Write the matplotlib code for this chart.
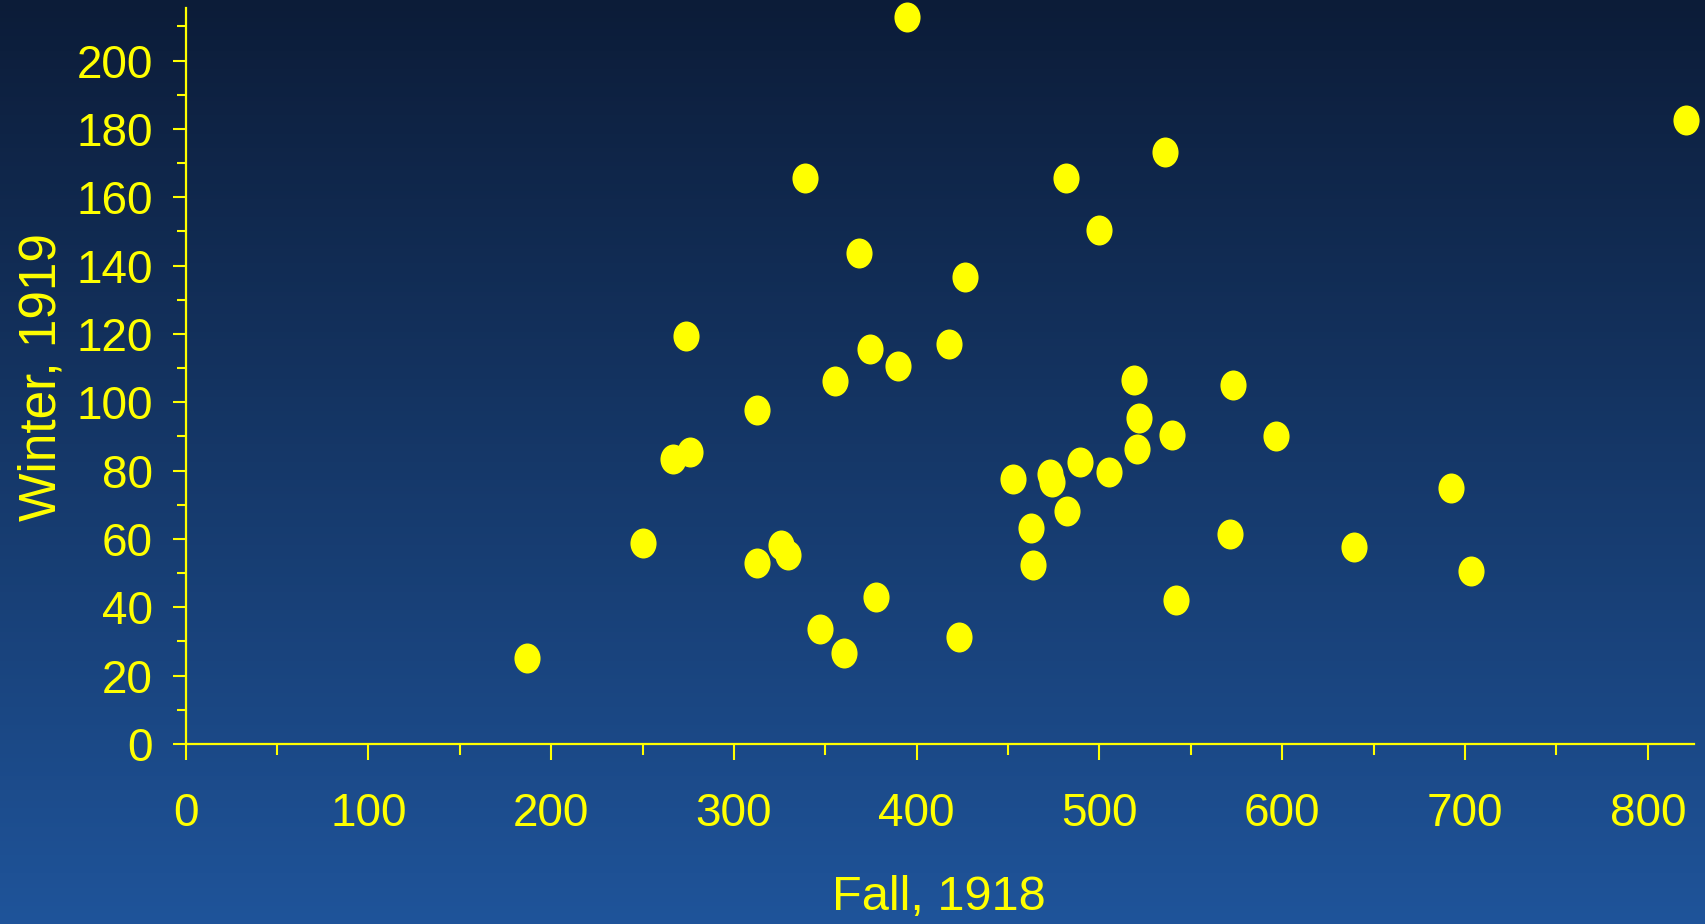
import numpy as np
import matplotlib
matplotlib.use("Agg")
import matplotlib.pyplot as plt
from matplotlib.path import Path
from matplotlib.ticker import MultipleLocator

# Данные: осень 1918 (x) и зима 1919 (y)
fall_1918 = [186.5, 250.1, 266.5, 276.0, 273.8, 312.8, 312.8, 325.7, 329.4, 338.9,
             347.1, 355.5, 360.2, 368.6, 374.4, 377.9, 389.9, 394.8, 417.4, 423.4,
             426.4, 452.7, 462.4, 463.5, 472.9, 474.2, 481.7, 482.4, 489.5, 499.6,
             505.1, 519.1, 521.6, 520.5, 535.9, 539.5, 541.9, 571.6, 572.8, 596.6,
             639.5, 692.4, 703.1, 820.8]
winter_1919 = [25.1, 58.9, 83.3, 85.4, 119.3, 97.7, 53.1, 58.3, 55.3, 165.5,
               33.8, 106.3, 26.6, 143.7, 115.7, 43.1, 110.7, 212.7, 117.2, 31.2,
               136.6, 77.6, 63.2, 52.4, 79.1, 76.8, 165.6, 68.2, 82.6, 150.3,
               79.7, 106.4, 95.5, 86.3, 173.3, 90.5, 42.2, 61.4, 105.1, 90.1,
               57.6, 74.8, 50.6, 182.5]

x_ticks = [0, 100, 200, 300, 400, 500, 600, 700, 800]
y_ticks = [0, 20, 40, 60, 80, 100, 120, 140, 160, 180, 200]

yellow = "#ffff00"
plt.rcParams['font.family'] = ['Liberation Sans', 'DejaVu Sans']

fig = plt.figure(figsize=(17.06, 9.24), dpi=100)

# Градиентный фон
bg = fig.add_axes([0, 0, 1, 1], zorder=-10)
top = np.array([0x0c, 0x1c, 0x38]) / 255
bottom = np.array([0x1f, 0x54, 0x9a]) / 255
t = np.linspace(0, 1, 256)[:, None]
grad = top + (bottom - top) * t
bg.imshow(grad[:, None, :], aspect='auto', extent=[0, 1, 0, 1])
bg.axis('off')

left, right = 185.7 / 1706, 1694 / 1706
bot, topy = 1 - 744 / 924, 1 - 8.3 / 924
ax = fig.add_axes([left, bot, right - left, topy - bot])
ax.set_facecolor('none')

# Эллиптический маркер (немного вытянут по вертикали)
circ = Path.unit_circle()
ell = Path(circ.vertices * np.array([0.87, 1.0]), circ.codes)
ax.plot(fall_1918, winter_1919, linestyle='none', marker=ell, markersize=21.6,
        markerfacecolor=yellow, markeredgewidth=0, clip_on=False)

ax.set_xlim(0, 825.3)
ax.set_ylim(0, 215.3)
ax.set_xticks(x_ticks)
ax.set_yticks(y_ticks)
ax.xaxis.set_minor_locator(MultipleLocator(50))
ax.yaxis.set_minor_locator(MultipleLocator(10))

for s in ['top', 'right']:
    ax.spines[s].set_visible(False)
for s in ['left', 'bottom']:
    ax.spines[s].set_color(yellow)
    ax.spines[s].set_linewidth(1.6)

ax.tick_params(axis='x', which='major', length=11.5, width=1.5, color=yellow,
               labelcolor=yellow, labelsize=33, pad=23)
ax.tick_params(axis='x', which='minor', length=7.7, width=1.5, color=yellow)
ax.tick_params(axis='y', which='major', length=9.6, width=1.5, color=yellow,
               labelcolor=yellow, labelsize=33, pad=14)
ax.tick_params(axis='y', which='minor', length=6.5, width=1.5, color=yellow)

fig.text(939 / 1706, 1 - 897 / 924, 'Fall, 1918', color=yellow, fontsize=35,
         ha='center', va='center')
fig.text(42 / 1706, 1 - 377 / 924, 'Winter, 1919', color=yellow, fontsize=37,
         ha='center', va='center', rotation=90)

fig.savefig('out.png', dpi=100)
